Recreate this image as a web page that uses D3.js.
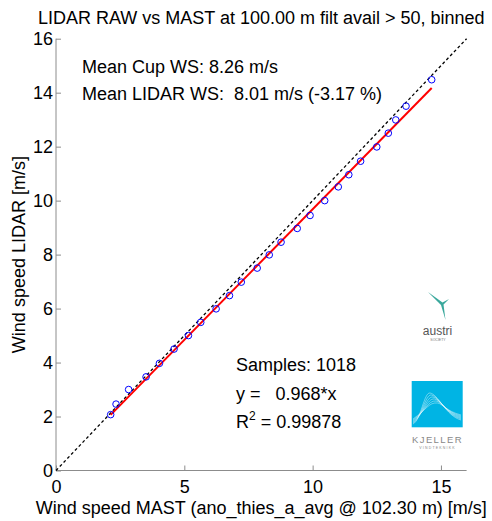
<!DOCTYPE html>
<html lang="en">
<head>
  <meta charset="UTF-8">
  <title>LIDAR vs MAST</title>
  <script src="https://d3js.org/d3.v7.min.js"></script>
  <style>
    body { margin: 0; background: #fff; }
    svg text { font-family: "Liberation Sans", Arial, sans-serif; fill: #000; }
    .axis path, .axis line { stroke: #8c8c8c; }
    .axis text { font-size: 18px; font-family: "Liberation Sans", Arial, sans-serif; fill: #000; }
    .note { font-size: 18px; white-space: pre; }
  </style>
</head>
<body>
  <div id="chart"></div>
  <script>
    // binned means, mast (x) vs lidar (y)
    const mastWS  = [2.13, 2.34, 2.83, 3.51, 4.03, 4.60, 5.16, 5.64, 6.24, 6.76, 7.22, 7.84, 8.31,
                     8.77, 9.40, 9.90, 10.47, 11.00, 11.41, 11.87, 12.50, 12.95, 13.24, 13.64, 14.64];
    const lidarWS = [2.07, 2.46, 3.00, 3.47, 3.97, 4.50, 5.00, 5.49, 5.99, 6.48, 6.98, 7.50, 7.99,
                     8.46, 8.97, 9.45, 10.00, 10.51, 10.96, 11.46, 11.99, 12.50, 12.99, 13.50, 14.48];
    const slope = 0.968;
    const xTicks = [0, 5, 10, 15];
    const yTicks = [0, 2, 4, 6, 8, 10, 12, 14, 16];
    const statsTop = ["Mean Cup WS: 8.26 m/s", "Mean LIDAR WS:  8.01 m/s (-3.17 %)"];

    const W = 492, H = 521;
    const svg = d3.select("#chart").append("svg")
      .attr("width", W).attr("height", H);

    const x = d3.scaleLinear().domain([0, 16]).range([56, 466.6]);
    const y = d3.scaleLinear().domain([0, 16]).range([470.5, 38.7]);

    // axes
    svg.append("g")
      .attr("class", "axis")
      .attr("transform", `translate(0,${y(0)})`)
      .call(d3.axisBottom(x).tickValues(xTicks).tickSizeInner(-5).tickSizeOuter(0).tickPadding(10))
      .call(g => g.select(".domain").attr("d", `M${x(0)},0H${x(16)}`));

    svg.append("g")
      .attr("class", "axis")
      .attr("transform", `translate(${x(0)},0)`)
      .call(d3.axisLeft(y).tickValues(yTicks).tickSizeInner(-5).tickSizeOuter(0).tickPadding(3))
      .call(g => g.select(".domain").attr("d", `M0,${y(0)}V${y(16)}`));

    // 1:1 line
    svg.append("line")
      .attr("x1", x(0)).attr("y1", y(0))
      .attr("x2", x(16)).attr("y2", y(16))
      .attr("stroke", "#000").attr("stroke-width", 1.3)
      .attr("stroke-dasharray", "3,2.5");

    // fit line
    const xMin = d3.min(mastWS), xMax = d3.max(mastWS);
    svg.append("line")
      .attr("x1", x(xMin)).attr("y1", y(slope * xMin))
      .attr("x2", x(xMax)).attr("y2", y(slope * xMax))
      .attr("stroke", "#ff0000").attr("stroke-width", 2);

    // binned points
    svg.selectAll(".pt")
      .data(mastWS.map((m, i) => [m, lidarWS[i]]))
      .enter()
      .append("circle")
      .attr("class", "pt")
      .attr("cx", d => x(d[0]))
      .attr("cy", d => y(d[1]))
      .attr("r", 3.3)
      .attr("fill", "none")
      .attr("stroke", "#0000ff")
      .attr("stroke-width", 1);

    // title and axis labels
    svg.append("text")
      .attr("x", (x(0) + x(16)) / 2).attr("y", 24)
      .attr("text-anchor", "middle").attr("font-size", 18)
      .text("LIDAR RAW vs MAST at 100.00 m filt avail > 50, binned");

    svg.append("text")
      .attr("x", (x(0) + x(16)) / 2).attr("y", 514)
      .attr("text-anchor", "middle").attr("font-size", 18)
      .text("Wind speed MAST (ano_thies_a_avg @ 102.30 m) [m/s]");

    svg.append("text")
      .attr("transform", `translate(25,${(y(0) + y(16)) / 2}) rotate(-90)`)
      .attr("text-anchor", "middle").attr("font-size", 18)
      .text("Wind speed LIDAR [m/s]");

    // stats text
    svg.selectAll(".top-note")
      .data(statsTop)
      .enter()
      .append("text")
      .attr("class", "note")
      .attr("x", 82)
      .attr("y", (d, i) => 73.3 + i * 26.7)
      .text(d => d);

    svg.append("text").attr("class", "note").attr("x", 236).attr("y", 371).text("Samples: 1018");
    svg.append("text").attr("class", "note").attr("x", 236).attr("y", 400).text(`y =   ${slope.toFixed(3)}*x`);
    const r2 = svg.append("text").attr("class", "note").attr("x", 236).attr("y", 428);
    r2.append("tspan").text("R");
    r2.append("tspan").attr("font-size", 12).attr("dy", -8).text("2");
    r2.append("tspan").attr("dy", 8).text(" = 0.99878");

    // austri logo
    const austri = svg.append("g");
    austri.append("path")
      .attr("d", "M428,292 L442.5,302.5 L449,299 L443.5,304.5 L445.5,320 L441,305 Z")
      .attr("fill", "#3aa89c");
    austri.append("text")
      .attr("x", 437.5).attr("y", 335).attr("text-anchor", "middle")
      .attr("font-size", 12).style("fill", "#555")
      .text("austri");
    austri.append("text")
      .attr("x", 438).attr("y", 341).attr("text-anchor", "middle")
      .attr("font-size", 3.5).style("fill", "#777")
      .text("SOCIETY");

    // kjeller logo
    const kj = svg.append("g");
    kj.append("rect")
      .attr("x", 411.7).attr("y", 381).attr("width", 51).attr("height", 46.3)
      .attr("fill", "#00b4e4");
    [0, 1, 2, 3, 4, 5].forEach(k => {
      kj.append("path")
        .attr("d", `M${413},${424 - k} C${421 + k},${420 - k * 2} ${424 + k},${392 + k * 2} ${430 + k * 1.5},${393 + k * 2} C${438 + k},${394 + k * 2} ${446},${416 - k} ${461},${420 - k}`)
        .attr("fill", "none")
        .attr("stroke", "#ffffff")
        .attr("stroke-opacity", 0.8)
        .attr("stroke-width", 0.5);
    });
    kj.append("text")
      .attr("x", 437.5).attr("y", 443).attr("text-anchor", "middle")
      .attr("font-size", 9.5).attr("letter-spacing", 1.4).style("fill", "#888")
      .text("KJELLER");
    kj.append("text")
      .attr("x", 437.5).attr("y", 448.5).attr("text-anchor", "middle")
      .attr("font-size", 3.5).attr("letter-spacing", 1.2).style("fill", "#888")
      .text("VINDTEKNIKK");
  </script>
</body>
</html>
